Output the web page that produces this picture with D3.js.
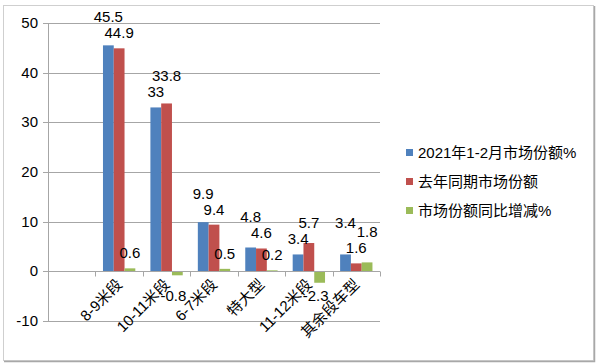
<!DOCTYPE html>
<html><head><meta charset="utf-8">
<script src="https://cdn.jsdelivr.net/npm/d3@7"></script>
<style>body{margin:0;background:#fff}svg{display:block}</style>
</head><body>
<svg id="c" width="600" height="364"></svg>
<script>
const categories = ["", "8-9米段", "10-11米段", "6-7米段", "特大型", "11-12米段", "其余段车型"];
const seriesNames = ["2021年1-2月市场份额%", "去年同期市场份额", "市场份额同比增减%"];
const share2021 = [null, 45.5, 33, 9.9, 4.8, 3.4, 3.4];
const shareLastYear = [null, 44.9, 33.8, 9.4, 4.6, 5.7, 1.6];
const shareChange = [null, 0.6, -0.8, 0.5, 0.2, -2.3, 1.8];
const yTicks = [-10, 0, 10, 20, 30, 40, 50];
const colors = ["#4f81bd", "#c0504d", "#9bbb59"];

const svg = d3.select("#c");
const font = "'Liberation Sans','Noto Sans CJK SC',sans-serif";
// outer frame
svg.append("rect").attr("x", 3.5).attr("y", 5.5).attr("width", 590).attr("height", 355)
  .attr("fill", "#fff").attr("stroke", "#cfcfcf");
svg.append("path").attr("d", "M594.5,6V361.5H4").attr("fill", "none").attr("stroke", "#a8a8a8").attr("stroke-width", 1.5);

const L = 48, R = 380;
const y = d3.scaleLinear().domain([-10, 50]).range([321, 23]);
const x = d3.scaleBand().domain(categories.map((c, i) => i)).range([L, R]);
const xs = d3.scaleBand().domain([0, 1, 2]).range([0, x.bandwidth()]).paddingOuter(0.7).paddingInner(0);

// gridlines + y ticks
const g = svg.append("g");
g.selectAll("line.grid").data(yTicks).join("line")
  .attr("x1", L - 5).attr("x2", R).attr("y1", d => Math.round(y(d)) + 0.5).attr("y2", d => Math.round(y(d)) + 0.5)
  .attr("stroke", "#a6a6a6").attr("stroke-width", 1);
g.selectAll("text.yt").data(yTicks).join("text")
  .attr("x", L - 10).attr("y", d => y(d) + 5).attr("text-anchor", "end")
  .attr("font-family", font).attr("font-size", 15).attr("fill", "#000").text(d => d);
g.append("line").attr("x1", L + 0.5).attr("x2", L + 0.5).attr("y1", y(50)).attr("y2", y(-10)).attr("stroke", "#a6a6a6");

// bars
const series = [share2021, shareLastYear, shareChange];
const bars = [];
series.forEach((arr, s) => {
  arr.forEach((v, i) => {
    if (v == null) return;
    bars.push({s, i, v});
  });
});
svg.append("g").selectAll("rect").data(bars).join("rect")
  .attr("x", d => x(d.i) + xs(d.s))
  .attr("width", xs.bandwidth())
  .attr("y", d => y(Math.max(0, d.v)))
  .attr("height", d => Math.abs(y(d.v) - y(0)))
  .attr("fill", d => colors[d.s]);

// x axis line and ticks
const y0 = Math.round(y(0)) + 0.5;
svg.append("line").attr("x1", L).attr("x2", R).attr("y1", y0).attr("y2", y0).attr("stroke", "#a6a6a6");
const bounds = d3.range(1, categories.length + 1).map(i => i < categories.length ? x(i) : R);
svg.selectAll("line.xt").data(bounds).join("line")
  .attr("x1", d => Math.round(d) + 0.5).attr("x2", d => Math.round(d) + 0.5)
  .attr("y1", y0).attr("y2", y0 + 5).attr("stroke", "#a6a6a6");
svg.selectAll("text.xl").data(categories.slice(1)).join("text")
  .attr("transform", (d, k) => `translate(${x(k + 1) + x.bandwidth() / 2 + 4},${y0 + 14}) rotate(-45)`)
  .attr("text-anchor", "end").attr("font-family", font).attr("font-size", 15).attr("fill", "#000").text(d => d);

// data labels with simple collision avoidance within a group
const labels = [];
for (let i = 1; i < categories.length; i++) {
  const grp = bars.filter(b => b.i === i);
  const pos = grp.filter(b => b.v >= 0).sort((a, b) => a.v - b.v);
  let last = null;
  pos.forEach(b => {
    let ly = y(b.v) - 15;
    if (last !== null && Math.abs(b.s - last.s) <= 1) ly = Math.min(ly, last.ly - 16);
    else if (last !== null) ly = Math.min(ly, last.ly - 9);
    const lab = {b, ly};
    labels.push(lab); last = {s: b.s, ly};
  });
  grp.filter(b => b.v < 0).forEach(b => labels.push({b, ly: y(0) + 25}));
}
svg.append("g").selectAll("text").data(labels).join("text")
  .attr("x", d => x(d.b.i) + xs(d.b.s) + xs.bandwidth() / 2 + (d.b.v < 0 ? -4 : 0))
  .attr("y", d => d.ly + 5)
  .attr("text-anchor", "middle").attr("font-family", font).attr("font-size", 15).attr("fill", "#000")
  .text(d => d.b.v);

// legend
const lg = svg.append("g").attr("transform", "translate(406,153)");
seriesNames.forEach((n, k) => {
  const row = lg.append("g").attr("transform", `translate(0,${k * 29})`);
  row.append("rect").attr("x", 0).attr("y", -4).attr("width", 7).attr("height", 7).attr("fill", colors[k]);
  row.append("text").attr("x", 12).attr("y", 5).attr("font-family", font).attr("font-size", 15).attr("fill", "#000").text(n);
});
</script>
</body></html>
